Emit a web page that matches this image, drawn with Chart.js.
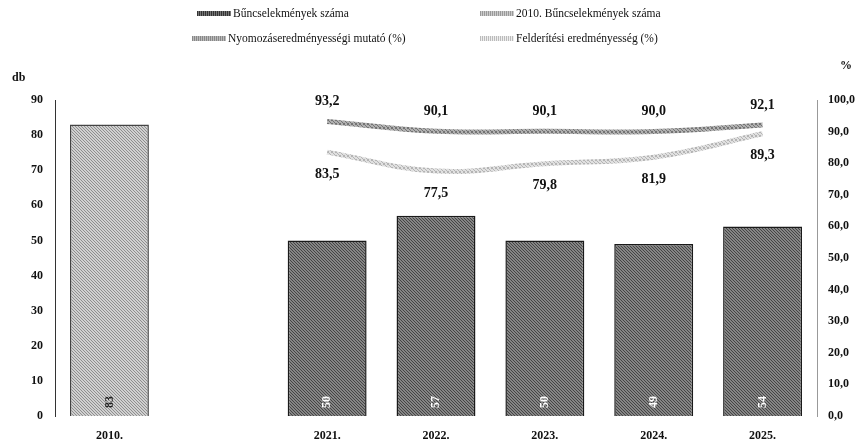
<!DOCTYPE html>
<html>
<head>
<meta charset="utf-8">
<script src="https://cdn.jsdelivr.net/npm/chart.js@4"></script>
<style>
  html, body { margin: 0; padding: 0; background: #fff; }
  #wrap { position: relative; width: 862px; height: 446px; }
  #legend { position: absolute; left: 0; top: 0; width: 862px; height: 60px;
    font-family: "Liberation Serif", serif; font-size: 11.5px; color: #111; }
  .item { position: absolute; display: flex; align-items: center; white-space: nowrap; }
  .sw { width: 34px; height: 5px; margin-right: 2px; }
</style>
</head>
<body>
<div id="wrap">
  <canvas id="chart" width="862" height="446"></canvas>
  <div id="legend"></div>
</div>
<script>
// data
const categories = ['2010.', '', '2021.', '2022.', '2023.', '2024.', '2025.'];
const crimeCounts = [null, null, 50, 57, 50, 49, 54];
const crimes2010 = [83, null, null, null, null, null, null];
const investigationRate = [null, null, 93.2, 90.1, 90.1, 90.0, 92.1];
const detectionRate = [null, null, 83.5, 77.5, 79.8, 81.9, 89.3];
const leftTicks = [0, 10, 20, 30, 40, 50, 60, 70, 80, 90];
const rightTicks = [0, 10, 20, 30, 40, 50, 60, 70, 80, 90, 100];

const serif = '"Liberation Serif", "Times New Roman", serif';

// little textured fills, like the scanned original
function makePattern(a, b, size) {
  const c = document.createElement('canvas');
  c.width = size; c.height = size;
  const g = c.getContext('2d');
  g.fillStyle = a; g.fillRect(0, 0, size, size);
  g.fillStyle = b;
  for (let y = 0; y < size; y++) {
    for (let x = 0; x < size; x++) {
      if ((x + 2 * y) % 3 === 0) g.fillRect(x, y, 1, 1);
    }
  }
  return g.createPattern(c, 'repeat');
}
const ctx = document.getElementById('chart').getContext('2d');
const darkFill = makePattern('#858585', '#444444', 6);
const lightFill = makePattern('#d0d0d0', '#8e8e8e', 6);
const line1Color = makePattern('#b0b0b0', '#747474', 4);
const line2Color = makePattern('#e0e0e0', '#b4b4b4', 4);

const fmt = v => v.toFixed(1).replace('.', ',');

// value labels: lines above/below the point, bars rotated at the bottom
const labelPlugin = {
  id: 'labels',
  afterDatasetsDraw(chart) {
    const c = chart.ctx;
    c.save();
    chart.data.datasets.forEach((ds, i) => {
      const meta = chart.getDatasetMeta(i);
      meta.data.forEach((el, j) => {
        const v = ds.data[j];
        if (v === null) return;
        if (ds.type === 'line') {
          c.font = 'bold 14px ' + serif;
          c.fillStyle = '#111';
          c.textAlign = 'center';
          c.textBaseline = 'middle';
          const dy = i === 2 ? -20 : 22;
          c.fillText(fmt(v), el.x, el.y + dy);
        } else {
          c.save();
          c.translate(el.x, el.base - 14);
          c.rotate(-Math.PI / 2);
          c.font = 'bold 12px ' + serif;
          c.fillStyle = i === 1 ? '#222' : '#fff';
          c.textAlign = 'center';
          c.textBaseline = 'middle';
          c.fillText(String(v), 0, 0);
          c.restore();
        }
      });
    });
    // axis unit titles
    c.font = 'bold 12px ' + serif;
    c.fillStyle = '#111';
    c.textAlign = 'left';
    c.textBaseline = 'middle';
    c.fillText('db', 12, 78);
    c.fillText('%', 840, 66);
    c.restore();
  }
};

const chart = new Chart(ctx, {
  type: 'bar',
  data: {
    labels: categories,
    datasets: [
      {
        label: 'Bűncselekmények száma',
        data: crimeCounts,
        backgroundColor: darkFill,
        borderColor: '#1a1a1a',
        borderWidth: 1.5,
        grouped: false,
        yAxisID: 'y',
        order: 2
      },
      {
        label: '2010. Bűncselekmények száma',
        data: crimes2010,
        backgroundColor: lightFill,
        borderColor: '#444',
        borderWidth: 1.5,
        grouped: false,
        yAxisID: 'y',
        order: 2
      },
      {
        type: 'line',
        label: 'Nyomozáseredményességi mutató (%)',
        data: investigationRate,
        borderColor: line1Color,
        borderWidth: 5,
        pointRadius: 0,
        tension: 0.4,
        yAxisID: 'y1',
        order: 1
      },
      {
        type: 'line',
        label: 'Felderítési eredményesség (%)',
        data: detectionRate,
        borderColor: line2Color,
        borderWidth: 5,
        pointRadius: 0,
        tension: 0.4,
        yAxisID: 'y1',
        order: 1
      }
    ]
  },
  options: {
    responsive: false,
    animation: false,
    layout: { padding: { top: 100, left: 0, right: 0, bottom: 0 } },
    datasets: { bar: { barPercentage: 0.725, categoryPercentage: 1 } },
    plugins: { legend: { display: false }, tooltip: { enabled: false } },
    scales: {
      x: {
        grid: { display: false, drawTicks: false },
        border: { display: false },
        ticks: { color: '#111', font: { family: serif, size: 12, weight: 'bold' }, padding: 13, maxRotation: 0 },
        afterFit(s) { s.height = 30; }
      },
      y: {
        position: 'left',
        min: 0, max: 90,
        afterBuildTicks(s) { s.ticks = leftTicks.map(v => ({ value: v })); },
        grid: { display: false, drawTicks: false },
        border: { display: true, color: '#333', width: 1 },
        ticks: { color: '#111', font: { family: serif, size: 12, weight: 'bold' }, padding: 12 },
        afterFit(s) { s.width = 55; }
      },
      y1: {
        position: 'right',
        min: 0, max: 100,
        afterBuildTicks(s) { s.ticks = rightTicks.map(v => ({ value: v })); },
        grid: { display: false, drawTicks: false },
        border: { display: true, color: '#999', width: 1 },
        ticks: { color: '#111', font: { family: serif, size: 12, weight: 'bold' }, padding: 11, callback: v => fmt(v) },
        afterFit(s) { s.width = 45; }
      }
    }
  },
  plugins: [labelPlugin]
});

// legend in two columns, built from the datasets
const legendPos = [[197, 15], [480, 15], [192, 40], [480, 40]];
const swatchCss = [
  'background: repeating-linear-gradient(90deg,#333 0 1px,#777 1px 2px)',
  'background: repeating-linear-gradient(90deg,#999 0 1px,#ccc 1px 2px)',
  'background: repeating-linear-gradient(90deg,#888 0 1px,#bbb 1px 2px)',
  'background: repeating-linear-gradient(90deg,#bbb 0 1px,#eee 1px 2px)'
];
const legend = document.getElementById('legend');
chart.data.datasets.forEach((ds, i) => {
  const item = document.createElement('div');
  item.className = 'item';
  item.style.left = legendPos[i][0] + 'px';
  item.style.top = (legendPos[i][1] - 8) + 'px';
  const sw = document.createElement('span');
  sw.className = 'sw';
  sw.style.cssText = swatchCss[i];
  const tx = document.createElement('span');
  tx.textContent = ds.label;
  item.appendChild(sw);
  item.appendChild(tx);
  legend.appendChild(item);
});
</script>
</body>
</html>
